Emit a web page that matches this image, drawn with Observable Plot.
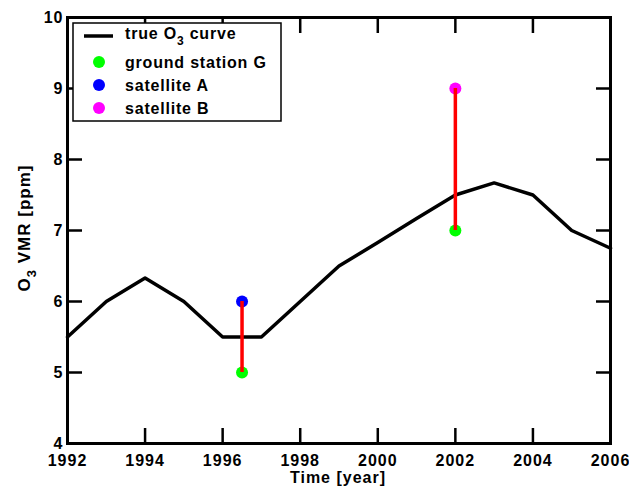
<!DOCTYPE HTML>
<html lang="en-US">
  <head>
    <meta charset="UTF-8">
    <title>O3 VMR validation</title>
    <style>
      body {margin: 0; background: white;}
    </style>
  </head>
  <body>
    <div id="chart"></div>
    <script src="https://cdn.jsdelivr.net/npm/d3@7"></script>
    <script src="https://cdn.jsdelivr.net/npm/@observablehq/plot@0.6"></script>
    <script>
      // true ozone curve, one value per year
      const years = [1992, 1993, 1994, 1995, 1996, 1997, 1998, 1999, 2000, 2001, 2002, 2003, 2004, 2005, 2006];
      const trueO3 = [5.5, 6.0, 6.33, 6.0, 5.5, 5.5, 6.0, 6.5, 6.83, 7.17, 7.5, 7.67, 7.5, 7.0, 6.75];
      // observations
      const groundTimes = [1996.5, 2002];
      const groundValues = [5, 7];
      const satATimes = [1996.5];
      const satAValues = [6];
      const satBTimes = [2002];
      const satBValues = [9];
      const xTicks = [1992, 1994, 1996, 1998, 2000, 2002, 2004, 2006];
      const yTicks = [4, 5, 6, 7, 8, 9, 10];
      const legendLabels = ['true O3 curve', 'ground station G', 'satellite A', 'satellite B'];

      const curve = years.map((year, i) => ({year, o3: trueO3[i]}));
      const ground = groundTimes.map((t, i) => ({t, v: groundValues[i]}));
      const satA = satATimes.map((t, i) => ({t, v: satAValues[i]}));
      const satB = satBTimes.map((t, i) => ({t, v: satBValues[i]}));
      // red bars join the ground value with the satellite value at the same time
      const links = satA.concat(satB).map(s => ({t: s.t, lo: ground.find(g => g.t === s.t).v, hi: s.v}));

      const tickOpts = {tickSize: -15, strokeWidth: 2.5, fill: 'none', label: null};
      const svg = Plot.plot({
        width: 629,
        height: 487,
        marginLeft: 67,
        marginRight: 19,
        marginTop: 17,
        marginBottom: 44,
        style: {
          fontFamily: '"Liberation Sans", Arial, sans-serif',
          fontWeight: 'bold',
          fontSize: '16px',
          letterSpacing: '1px',
          color: 'black',
          background: 'white',
          overflow: 'visible'
        },
        x: {domain: [1992, 2006], label: null},
        y: {domain: [4, 10], label: null},
        marks: [
          Plot.line(curve, {x: 'year', y: 'o3', stroke: 'black', strokeWidth: 3.5}),
          Plot.dot(ground, {x: 't', y: 'v', r: 6, fill: '#00ff00'}),
          Plot.dot(satA, {x: 't', y: 'v', r: 6, fill: '#0000ff'}),
          Plot.dot(satB, {x: 't', y: 'v', r: 6, fill: '#ff00ff'}),
          Plot.ruleX(links, {x: 't', y1: 'lo', y2: 'hi', stroke: '#ff0000', strokeWidth: 3.5}),
          Plot.axisX(xTicks, {anchor: 'bottom', ...tickOpts}),
          Plot.axisX(xTicks, {anchor: 'top', ...tickOpts}),
          Plot.axisY(yTicks, {anchor: 'left', ...tickOpts}),
          Plot.axisY(yTicks, {anchor: 'right', ...tickOpts}),
          Plot.axisX(xTicks, {anchor: 'bottom', tickSize: 0, tickPadding: 11, tickFormat: d => String(d), label: null}),
          Plot.axisY(yTicks, {anchor: 'left', tickSize: 0, tickPadding: 4, tickFormat: d => String(d), label: null}),
          Plot.frame({stroke: 'black', strokeWidth: 3})
        ]
      });
      document.getElementById('chart').append(svg);

      const root = d3.select(svg);
      root.append('text')
        .attr('x', 338).attr('y', 483)
        .attr('text-anchor', 'middle')
        .style('font-size', '16px')
        .text('Time [year]');
      const yTitle = root.append('text')
        .attr('transform', 'translate(30,228) rotate(-90)')
        .attr('text-anchor', 'middle')
        .style('font-size', '17px');
      yTitle.append('tspan').text('O');
      yTitle.append('tspan').attr('dy', 6).style('font-size', '13px').text('3');
      yTitle.append('tspan').attr('dy', -6).text(' VMR [ppm]');

      // legend box
      const legend = root.append('g')
        .attr('text-anchor', 'start')
        .style('font-size', '16px')
        .style('letter-spacing', '0.8px');
      legend.append('rect')
        .attr('x', 73).attr('y', 23).attr('width', 208).attr('height', 98)
        .attr('fill', 'white').attr('stroke', 'black').attr('stroke-width', 1.5);
      legend.append('line')
        .attr('x1', 84).attr('x2', 113).attr('y1', 36).attr('y2', 36)
        .attr('stroke', 'black').attr('stroke-width', 3.5);
      const first = legend.append('text').attr('x', 125).attr('y', 39);
      first.append('tspan').text('true O');
      first.append('tspan').attr('dy', 6).style('font-size', '12px').text('3');
      first.append('tspan').attr('dy', -6).text(' curve');
      const dotColors = ['#00ff00', '#0000ff', '#ff00ff'];
      legendLabels.slice(1).forEach((label, i) => {
        const cy = 62 + i * 23;
        legend.append('circle').attr('cx', 99).attr('cy', cy).attr('r', 6).attr('fill', dotColors[i]);
        legend.append('text').attr('x', 125).attr('y', cy + 6).text(label);
      });
    </script>
  </body>
</html>
